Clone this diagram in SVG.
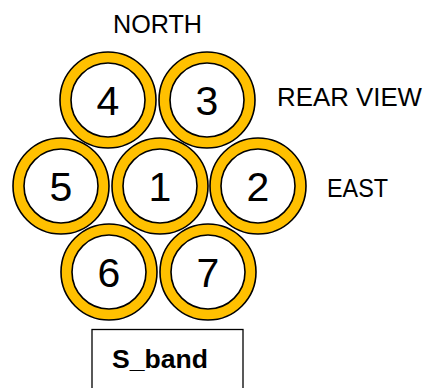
<svg xmlns="http://www.w3.org/2000/svg" width="430" height="388" viewBox="0 0 430 388">
  <style>
    .ring { fill: #FFC000; stroke: #000; stroke-width: 1.6; }
    .core { fill: #FFFFFF; stroke: #000; stroke-width: 1.6; }
    .num { font-family: "Liberation Sans", Arial, sans-serif; font-size: 41px; fill: #000; text-anchor: middle; }
    .lbl { font-family: "Liberation Sans", Arial, sans-serif; font-size: 25px; fill: #000; }
    .box { fill: #FFFFFF; stroke: #000; stroke-width: 1.3; }
    .boxtxt { font-family: "Liberation Sans", Arial, sans-serif; font-size: 26px; font-weight: bold; fill: #000; }
  </style>
  <defs>
    <g id="horn">
      <circle class="ring" r="48"/>
      <circle class="core" r="37"/>
    </g>
  </defs>

  <rect width="430" height="388" fill="#FFFFFF"/>

  <!-- orientation labels -->
  <text class="lbl" x="113" y="33" textLength="89" lengthAdjust="spacingAndGlyphs">NORTH</text>
  <text class="lbl" x="277" y="106" textLength="145" lengthAdjust="spacingAndGlyphs">REAR VIEW</text>
  <text class="lbl" x="327" y="197" textLength="61" lengthAdjust="spacingAndGlyphs">EAST</text>

  <!-- feed horns, hexagonal cluster -->
  <g id="horn4" transform="translate(108,100)">
    <use href="#horn"/>
    <text class="num" y="15">4</text>
  </g>
  <g id="horn3" transform="translate(207,100)">
    <use href="#horn"/>
    <text class="num" y="15">3</text>
  </g>
  <g id="horn5" transform="translate(61,186)">
    <use href="#horn"/>
    <text class="num" y="15">5</text>
  </g>
  <g id="horn1" transform="translate(160,186)">
    <use href="#horn"/>
    <text class="num" y="15">1</text>
  </g>
  <g id="horn2" transform="translate(258,186)">
    <use href="#horn"/>
    <text class="num" y="15">2</text>
  </g>
  <g id="horn6" transform="translate(109,272)">
    <use href="#horn"/>
    <text class="num" y="15">6</text>
  </g>
  <g id="horn7" transform="translate(208,272)">
    <use href="#horn"/>
    <text class="num" y="15">7</text>
  </g>

  <!-- band label box -->
  <g id="sband">
    <rect class="box" x="92" y="329.5" width="151" height="70"/>
    <text class="boxtxt" x="112" y="368" textLength="96" lengthAdjust="spacingAndGlyphs">S_band</text>
  </g>

  <g id="connectors"/>
</svg>
